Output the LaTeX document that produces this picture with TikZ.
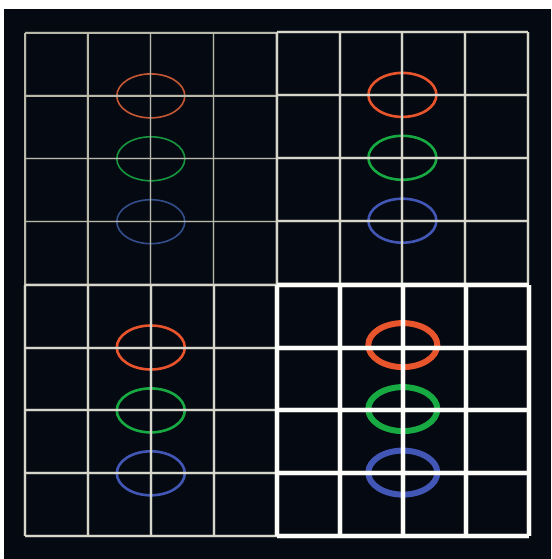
\documentclass[tikz,border=0pt]{standalone}
\usetikzlibrary{calc}
\definecolor{plate}{RGB}{5,9,17}
\definecolor{dimwire}{RGB}{185,185,170}
\definecolor{midwire}{RGB}{214,214,202}
\definecolor{brightwire}{RGB}{252,252,248}
\definecolor{ringred}{RGB}{232,84,44}
\definecolor{ringgreen}{RGB}{24,170,66}
\definecolor{ringblue}{RGB}{66,86,182}
\definecolor{dimred}{RGB}{196,88,52}
\definecolor{dimgreen}{RGB}{22,150,62}
\definecolor{dimblue}{RGB}{52,78,140}

\begin{document}
\begin{tikzpicture}[x=1pt, y=-1pt,
    faintgrid/.style={dimwire, line width=1.3pt,
      preaction={draw, dimwire, line width=3pt, opacity=.18}},
    plaingrid/.style={midwire, line width=2pt,
      preaction={draw, midwire, line width=4pt, opacity=.2}},
    boldgrid/.style={brightwire, line width=4pt,
      preaction={draw, brightwire, line width=6pt, opacity=.25}},
    faintring/.style={line width=1.6pt},
    plainring/.style={line width=2.6pt},
    boldring/.style={line width=6pt}]
    % sheet and dark plate
    \useasboundingbox (0,0) rectangle (551,559);
    \fill[white] (0,0) rectangle (551,559);
    \fill[plate] (4,9) rectangle (551,559);

    % --- top left: faint wires ---
    \begin{scope}[shift={(25,33)}]
      \draw[faintring, dimred]   (125.8,62.9)  ellipse (34 and 22);
      \draw[faintring, dimgreen] (125.8,125.8) ellipse (34 and 22);
      \draw[faintring, dimblue]  (125.8,188.7) ellipse (34 and 22);
      \foreach \k in {0,...,4} {
        \draw[faintgrid] (\k*62.9,0) -- (\k*62.9,251.6);
        \draw[faintgrid] (0,\k*62.9) -- (251.6,\k*62.9);
      }
    \end{scope}

    % --- top right ---
    \begin{scope}[shift={(276.6,32)}]
      \draw[plainring, ringred]   (125.8,62.9)  ellipse (34 and 22);
      \draw[plainring, ringgreen] (125.8,125.8) ellipse (34 and 22);
      \draw[plainring, ringblue]  (125.8,188.7) ellipse (34 and 22);
      \foreach \k in {0,...,4} {
        \draw[plaingrid] (\k*62.9,0) -- (\k*62.9,251.6);
        \draw[plaingrid] (0,\k*62.9) -- (251.6,\k*62.9);
      }
    \end{scope}

    % --- bottom left ---
    \begin{scope}[shift={(25,284.6)}]
      \draw[plainring, ringred]   (125.8,62.9)  ellipse (34 and 22);
      \draw[plainring, ringgreen] (125.8,125.8) ellipse (34 and 22);
      \draw[plainring, ringblue]  (125.8,188.7) ellipse (34 and 22);
      \foreach \k in {0,...,4} {
        \draw[plaingrid] (\k*62.9,0) -- (\k*62.9,251.6);
        \draw[plaingrid] (0,\k*62.9) -- (251.6,\k*62.9);
      }
    \end{scope}

    % --- bottom right: bold wires, drawn last ---
    \begin{scope}[shift={(277,284.6)}]
      \draw[boldring, ringred]   (125.8,60.5)  ellipse (34.5 and 22);
      \draw[boldring, ringgreen] (125.8,124.5) ellipse (34.5 and 22);
      \draw[boldring, ringblue]  (125.8,188)   ellipse (34.5 and 22);
      \foreach \k in {0,...,4} {
        \draw[boldgrid] (\k*62.9,0) -- (\k*62.9,251.6);
        \draw[boldgrid] (0,\k*62.9) -- (251.6,\k*62.9);
      }
    \end{scope}
  \end{tikzpicture}
\end{document}
